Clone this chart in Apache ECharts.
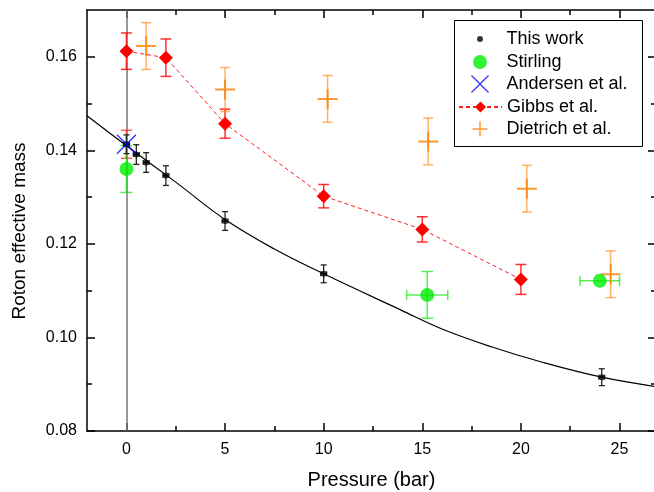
<!DOCTYPE html>
<html>
<head>
<meta charset="utf-8">
<script src="https://cdn.jsdelivr.net/npm/echarts@6/dist/echarts.min.js"></script>
<style>html,body{margin:0;padding:0;background:#fff;}#c{width:654px;height:492px;}</style>
</head>
<body>
<div id="c"></div>
<script>
// ---------- data ----------
const xMajor = [0, 5, 10, 15, 20, 25];
const xMinor = [2.5, 7.5, 12.5, 17.5, 22.5];
const yMajor = [0.08, 0.10, 0.12, 0.14, 0.16];
const yMinor = [0.09, 0.11, 0.13, 0.15];

const thisX    = [0, 0.5, 1, 2, 5, 10, 24.1];
const thisY    = [0.1413, 0.1391, 0.1374, 0.1346, 0.1249, 0.1136, 0.0915];
const thisYErr = [0.002, 0.0021, 0.0021, 0.0021, 0.002, 0.0019, 0.0018];
const thisXErr = [0.15, 0.15, 0.15, 0.15, 0.15, 0.15, 0.15];

const stirlingX    = [0, 15.25, 24.0];
const stirlingY    = [0.136, 0.1091, 0.1121];
const stirlingYErr = [0.005, 0.005, 0];
const stirlingXErr = [0, 1.04, 1.0];

const andersenX    = [0];
const andersenY    = [0.1413];
const andersenYErr = [0.003];

const gibbsX    = [0, 2, 5, 10, 15, 20];
const gibbsY    = [0.1612, 0.1598, 0.1457, 0.1302, 0.1231, 0.1124];
const gibbsYErr = [0.0039, 0.004, 0.0031, 0.0025, 0.0027, 0.0032];

const dietrichX    = [1.0, 5.0, 10.2, 15.3, 20.3, 24.55];
const dietrichY    = [0.1623, 0.1530, 0.1510, 0.1419, 0.1318, 0.1135];
const dietrichYErr = [0.005, 0.0047, 0.005, 0.005, 0.005, 0.005];

const fitX = [-2, 0, 2.5, 5, 7.5, 10, 13.9, 16, 18.5, 21, 24.1, 26.85];
const fitY = [0.1474, 0.1410, 0.1332, 0.1252, 0.1189, 0.1136, 0.1059, 0.1018, 0.0980, 0.0948, 0.0915, 0.0895];

// ---------- helpers ----------
const FONT = 'Liberation Sans, Arial, sans-serif';
const zip = (a, b) => a.map((v, i) => [v, b[i]]);

function errSeries(xs, ys, ey, ex, color, capY, capX, lw, z) {
  return {
    type: 'custom', xAxisIndex: 0, yAxisIndex: 0, z: z, silent: true,
    data: xs.map((x, i) => [x, ys[i], ey ? ey[i] : 0, ex ? ex[i] : 0]),
    encode: { x: 0, y: 1 },
    renderItem: function (params, api) {
      const x = api.value(0), y = api.value(1), e1 = api.value(2), e2 = api.value(3);
      const st = { stroke: color, lineWidth: lw, fill: null };
      const ch = [];
      const L = (x1, y1, x2, y2) => ch.push({ type: 'line', shape: { x1, y1, x2, y2 }, style: st });
      if (e1 > 0) {
        const t = api.coord([x, y + e1]), b = api.coord([x, y - e1]);
        L(t[0], t[1], b[0], b[1]);
        L(t[0] - capY, t[1], t[0] + capY, t[1]);
        L(b[0] - capY, b[1], b[0] + capY, b[1]);
      }
      if (e2 > 0) {
        const l = api.coord([x - e2, y]), r = api.coord([x + e2, y]);
        L(l[0], l[1], r[0], r[1]);
        L(l[0], l[1] - capX, l[0], l[1] + capX);
        L(r[0], r[1] - capX, r[0], r[1] + capX);
      }
      return { type: 'group', children: ch };
    }
  };
}

const X_PATH = 'path://M0,1 L1,0 L10,9 L19,0 L20,1 L11,10 L20,19 L19,20 L10,11 L1,20 L0,19 L9,10 Z';
const PLUS_PATH = 'path://M9,0 L11,0 L11,9 L20,9 L20,11 L11,11 L11,20 L9,20 L9,11 L0,11 L0,9 L9,9 Z';

const xMin = -2, xMax = 26.85, yMin = 0.08, yMax = 0.17;

function xAx(pos, ticks, len, main) {
  return {
    type: 'value', position: pos, min: xMin, max: xMax,
    axisLine: { show: main, onZero: false, lineStyle: { color: '#000', width: 1.5 } },
    axisTick: { show: true, inside: true, length: len, customValues: ticks, lineStyle: { color: '#000', width: 1.5 } },
    axisLabel: { show: false },
    splitLine: { show: false }
  };
}
function yAx(pos, ticks, len, main) {
  return {
    type: 'value', position: pos, min: yMin, max: yMax,
    axisLine: { show: main, onZero: false, lineStyle: { color: '#000', width: 1.5 } },
    axisTick: { show: true, inside: true, length: len, customValues: ticks, lineStyle: { color: '#000', width: 1.5 } },
    axisLabel: { show: false },
    splitLine: { show: false }
  };
}

const xMain = xAx('bottom', xMajor, 8, true);
xMain.axisLabel = { show: true, customValues: xMajor, fontSize: 16, color: '#000', fontFamily: FONT, margin: 11 };
xMain.name = 'Pressure (bar)';
xMain.nameLocation = 'middle';
xMain.nameGap = 39;
xMain.nameTextStyle = { fontSize: 20, color: '#000', fontFamily: FONT };

const yMain = yAx('left', yMajor, 8, true);
yMain.axisLabel = { show: true, customValues: yMajor, fontSize: 16, color: '#000', fontFamily: FONT, margin: 10,
  formatter: v => v.toFixed(2) };
yMain.name = 'Roton effective mass';
yMain.nameLocation = 'middle';
yMain.nameGap = 58;
yMain.nameTextStyle = { fontSize: 19, color: '#000', fontFamily: FONT, padding: [0, 21, 0, 0] };

// icon centre at x=480, text starts near x=507
function legendAt(name, top, h, isLine) {
  return {
    data: [name], left: isLine ? 458 : 480 - h / 2, top: top, orient: 'horizontal', padding: 0, itemGap: 0,
    itemWidth: 43, itemHeight: h, selectedMode: false,
    textStyle: { fontSize: 18, color: '#000', fontFamily: FONT }
  };
}

const option = {
  animation: false,
  backgroundColor: '#fff',
  textStyle: { fontFamily: FONT },
  grid: { left: 87, right: -2, top: 10, bottom: 61, containLabel: false, outerBoundsMode: 'none' },
  xAxis: [xMain, xAx('bottom', xMinor, 5, false), xAx('top', xMajor, 8, true), xAx('top', xMinor, 5, false)],
  yAxis: [yMain, yAx('left', yMinor, 5, false), yAx('right', yMajor, 8, true), yAx('right', yMinor, 5, false)],
  legend: [
    legendAt('This work', 30, 6, false),
    legendAt('Stirling', 53, 14, false),
    legendAt('Andersen et al.', 75, 18, false),
    legendAt('Gibbs et al.', 98, 14, true),
    legendAt('Dietrich et al.', 120, 15, false)
  ],
  graphic: [{
    type: 'rect', z: 100,
    shape: { x: 454.5, y: 20.5, width: 188, height: 126 },
    style: { fill: null, stroke: '#000', lineWidth: 1 }
  }],
  series: [
    {
      name: 'fit', type: 'line', data: zip(fitX, fitY), smooth: 0.4, showSymbol: false, z: 3, silent: true,
      lineStyle: { color: '#000', width: 1.2 },
      markLine: {
        silent: true, symbol: 'none', label: { show: false }, z: 1,
        lineStyle: { color: '#777777', width: 1.5, type: 'solid' },
        data: [{ xAxis: 0 }]
      }
    },
    errSeries(gibbsX, gibbsY, gibbsYErr, null, 'rgba(255,0,0,0.8)', 5.5, 5, 1.5, 4),
    errSeries(andersenX, andersenY, andersenYErr, null, 'rgba(255,40,40,0.75)', 5.5, 5, 1.5, 4),
    errSeries(dietrichX, dietrichY, dietrichYErr, null, 'rgba(255,128,0,0.6)', 5, 5, 1.5, 4),
    errSeries(stirlingX, stirlingY, stirlingYErr, stirlingXErr, 'rgba(0,230,0,0.65)', 6, 5, 1.5, 4),
    errSeries(thisX, thisY, thisYErr, thisXErr, '#222', 3, 2.5, 1.3, 5),
    {
      name: 'Gibbs et al.', type: 'line', data: zip(gibbsX, gibbsY), z: 6,
      symbol: 'diamond', symbolSize: 14, showSymbol: true,
      lineStyle: { color: '#ff2020', width: 1, type: [4, 3] },
      itemStyle: { color: '#ff0000' }
    },
    {
      name: 'Dietrich et al.', type: 'scatter', data: zip(dietrichX, dietrichY), z: 6,
      symbol: PLUS_PATH, symbolSize: 20, itemStyle: { color: '#ff8000' }
    },
    {
      name: 'Stirling', type: 'scatter', data: zip(stirlingX, stirlingY), z: 6,
      symbol: 'circle', symbolSize: 14, itemStyle: { color: '#00ee00' }
    },
    {
      name: 'This work', type: 'scatter', data: zip(thisX, thisY), z: 7,
      symbol: 'circle', symbolSize: 6, itemStyle: { color: '#000' }
    },
    {
      name: 'Andersen et al.', type: 'scatter', data: zip(andersenX, andersenY), z: 8,
      symbol: X_PATH, symbolSize: 20, itemStyle: { color: '#0000ff' }
    }
  ]
};

const chart = echarts.init(document.getElementById('c'), null, { renderer: 'canvas' });
chart.setOption(option);
</script>
</body>
</html>
